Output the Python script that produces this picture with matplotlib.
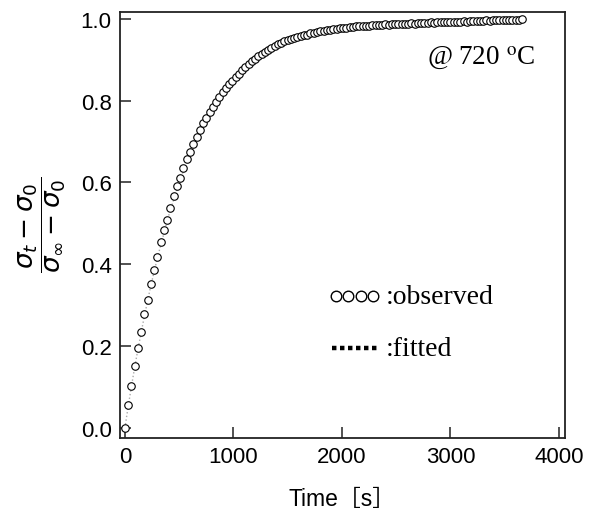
import matplotlib
matplotlib.use("Agg")
import matplotlib.pyplot as plt

# ---- data ----
time_s = [0, 30, 60, 90, 120, 150, 180, 210, 240, 270, 300, 330, 360, 390, 420,
          450, 480, 510, 540, 570, 600, 630, 660, 690, 720, 750, 780, 810, 840,
          870, 900, 930, 960, 990, 1020, 1050, 1080, 1110, 1140, 1170, 1200,
          1230, 1260, 1290, 1320, 1350, 1380, 1410, 1440, 1470, 1500, 1530,
          1560, 1590, 1620, 1650, 1680, 1710, 1740, 1770, 1800, 1830, 1860,
          1890, 1920, 1950, 1980, 2010, 2040, 2070, 2100, 2130, 2160, 2190,
          2220, 2250, 2280, 2310, 2340, 2370, 2400, 2430, 2460, 2490, 2520,
          2550, 2580, 2610, 2640, 2670, 2700, 2730, 2760, 2790, 2820, 2850,
          2880, 2910, 2940, 2970, 3000, 3030, 3060, 3090, 3120, 3150, 3180,
          3210, 3240, 3270, 3300, 3330, 3360, 3390, 3420, 3450, 3480, 3510,
          3540, 3570, 3600, 3630, 3660]
observed = [0.000, 0.056, 0.103, 0.151, 0.196, 0.235, 0.279, 0.313, 0.353, 0.386,
            0.418, 0.454, 0.484, 0.508, 0.537, 0.568, 0.591, 0.611, 0.635, 0.657,
            0.675, 0.694, 0.712, 0.727, 0.745, 0.757, 0.772, 0.784, 0.796, 0.808,
            0.821, 0.830, 0.841, 0.849, 0.857, 0.866, 0.874, 0.882, 0.889, 0.896,
            0.902, 0.908, 0.914, 0.919, 0.924, 0.929, 0.933, 0.937, 0.940, 0.945,
            0.948, 0.951, 0.953, 0.955, 0.957, 0.960, 0.961, 0.964, 0.966, 0.968,
            0.969, 0.971, 0.972, 0.973, 0.975, 0.976, 0.977, 0.977, 0.978, 0.979,
            0.980, 0.981, 0.981, 0.982, 0.983, 0.982, 0.984, 0.984, 0.985, 0.985,
            0.986, 0.985, 0.986, 0.987, 0.987, 0.988, 0.987, 0.988, 0.989, 0.988,
            0.989, 0.990, 0.989, 0.990, 0.991, 0.990, 0.991, 0.992, 0.991, 0.992,
            0.992, 0.993, 0.992, 0.993, 0.994, 0.993, 0.994, 0.994, 0.995, 0.994,
            0.995, 0.996, 0.995, 0.996, 0.996, 0.997, 0.996, 0.997, 0.997, 0.998,
            0.997, 0.998, 0.999]

fit_time_s = [0, 30, 60, 90, 120, 180, 240, 300, 400, 500, 600, 800, 1000,
              1200, 1500, 1800, 2200, 2700, 3200, 3660]
fitted = [0.000, 0.052, 0.101, 0.148, 0.192, 0.274, 0.349, 0.416, 0.516, 0.600,
          0.671, 0.781, 0.852, 0.902, 0.946, 0.969, 0.984, 0.991, 0.995, 0.998]

x_ticks = [0, 1000, 2000, 3000, 4000]
y_ticks = [0.0, 0.2, 0.4, 0.6, 0.8, 1.0]
y_tick_labels = ["0.0", "0.2", "0.4", "0.6", "0.8", "1.0"]

sans = ["Liberation Sans", "Noto Sans CJK JP", "DejaVu Sans"]
serif = ["Liberation Serif", "DejaVu Serif"]

fig = plt.figure(figsize=(5.92, 5.10), dpi=100)
ax = fig.add_axes([120 / 592, 1 - 439 / 510, 445 / 592, 426 / 510])

ax.plot(fit_time_s, fitted, linestyle=":", color="#aaaaaa", lw=1.0, zorder=2)
ax.plot(time_s, observed, linestyle="none", marker="o", ms=5.4, mfc="white",
        mec="black", mew=0.8, zorder=3)

ax.set_xlim(-45, 4055)
ax.set_ylim(-0.0244, 1.0164)
ax.set_xticks(x_ticks)
ax.set_xticklabels([str(v) for v in x_ticks], fontfamily=sans, fontsize=16)
ax.set_yticks(y_ticks)
ax.set_yticklabels(y_tick_labels, fontfamily=sans, fontsize=16)
ax.tick_params(direction="in", length=8, width=1.2, color="#333333", pad=6)

for s in ax.spines.values():
    s.set_linewidth(1.3)
    s.set_color("#222222")

ax.set_xlabel("Time［s］", fontfamily=sans, fontsize=16.5, labelpad=14)
fig.text(42 / 592, 1 - 225 / 510,
         r"$\dfrac{\sigma_t-\sigma_0}{\sigma_\infty-\sigma_0}$",
         rotation=90, ha="center", va="center", fontsize=19)

ax.text(0.934, 0.895, r"@ 720 $^{\rm o}$C", transform=ax.transAxes,
        ha="right", va="center", fontfamily=serif, fontsize=19.5,
        math_fontfamily="stix")

# legend-like annotations
leg_x = [0.485, 0.513, 0.541, 0.569]
ax.plot(leg_x, [0.333] * 4, transform=ax.transAxes, linestyle="none",
        marker="o", ms=7.6, mfc="white", mec="black", mew=1.0, clip_on=False)
ax.plot([0.476, 0.58], [0.211, 0.211], transform=ax.transAxes, color="black",
        lw=3.2, linestyle=(0, (1.0, 0.8)), solid_capstyle="butt")
ax.text(0.598, 0.333, ":observed", transform=ax.transAxes, ha="left",
        va="center", fontfamily=serif, fontsize=20)
ax.text(0.598, 0.211, ":fitted", transform=ax.transAxes, ha="left",
        va="center", fontfamily=serif, fontsize=20)

fig.savefig("out.png", dpi=100)
